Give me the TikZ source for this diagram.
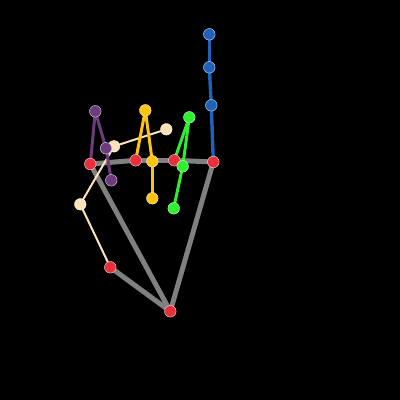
\documentclass[tikz,border=0pt]{standalone}
\usetikzlibrary{backgrounds}
\definecolor{rojo}{HTML}{E8303C}
\definecolor{azul}{HTML}{1F62BC}
\definecolor{morado}{HTML}{6E3C7C}
\definecolor{amarillo}{HTML}{FFC40F}
\definecolor{verde}{HTML}{30EE30}
\definecolor{crema}{HTML}{FDE2B8}
\definecolor{gris}{HTML}{808080}
\tikzset{
	punto/.style={circle, minimum size=11.6pt, inner sep=0pt, draw=white!85!#1, line width=0.4pt, fill=#1},
	hueso/.style={line width=#1, line cap=round}
}
\begin{document}
\begin{tikzpicture}[x=1pt, y=-1pt]
	% Palma
		\node[punto=rojo] (base) at (170.3,311.3) {};
		\node[punto=rojo] (pulgarA) at (110.3,267.3) {};
		\node[punto=rojo] (menique) at (90.3,164) {};
		\node[punto=rojo] (anular) at (135.7,160.3) {};
		\node[punto=rojo] (medio) at (174.3,160.3) {};
		\node[punto=rojo] (indice) at (213.3,162) {};

	% Pulgar
		\node[punto=crema] (pulgarB) at (80.3,204.3) {};
		\node[punto=crema] (pulgarC) at (114,146.3) {};
		\node[punto=crema] (pulgarD) at (166.3,129.3) {};

	% Menique
		\node[punto=morado] (meniqueA) at (95.3,111.3) {};
		\node[punto=morado] (meniqueB) at (106,148.3) {};
		\node[punto=morado] (meniqueC) at (111.3,180.3) {};

	% Anular
		\node[punto=amarillo] (anularA) at (145.3,110.3) {};
		\node[punto=amarillo] (anularB) at (152.3,161.3) {};
		\node[punto=amarillo] (anularC) at (152.3,198.3) {};

	% Medio
		\node[punto=verde] (medioA) at (189.3,117.3) {};
		\node[punto=verde] (medioB) at (182.7,166.3) {};
		\node[punto=verde] (medioC) at (173.7,208.3) {};

	% Indice
		\node[punto=azul] (indiceA) at (211.3,105.3) {};
		\node[punto=azul] (indiceB) at (209.3,67.3) {};
		\node[punto=azul] (indiceC) at (209.3,34.3) {};

	% Fondo y lineas
		\begin{scope}[on background layer]
			\fill[black] (0,0) rectangle (400,400);
			\draw[gris, hueso=5pt] (base) -- (pulgarA);
			\draw[gris, hueso=5pt] (base) -- (menique);
			\draw[gris, hueso=5pt] (base) -- (indice);
			\draw[gris, hueso=5pt] (menique) -- (anular);
			\draw[gris, hueso=5pt] (anular) -- (medio);
			\draw[gris, hueso=5pt] (medio) -- (indice);
			\draw[crema, hueso=2pt] (pulgarA) -- (pulgarB);
			\draw[crema, hueso=2pt] (pulgarB) -- (pulgarC);
			\draw[crema, hueso=2pt] (pulgarC) -- (pulgarD);
			\draw[morado, hueso=3pt] (menique) -- (meniqueA);
			\draw[morado, hueso=3pt] (meniqueA) -- (meniqueB);
			\draw[morado, hueso=3pt] (meniqueB) -- (meniqueC);
			\draw[amarillo, hueso=3pt] (anular) -- (anularA);
			\draw[amarillo, hueso=3pt] (anularA) -- (anularB);
			\draw[amarillo, hueso=3pt] (anularB) -- (anularC);
			\draw[verde, hueso=3pt] (medio) -- (medioA);
			\draw[verde, hueso=3pt] (medioA) -- (medioB);
			\draw[verde, hueso=3pt] (medioB) -- (medioC);
			\draw[azul, hueso=3.4pt] (indice) -- (indiceA);
			\draw[azul, hueso=3.4pt] (indiceA) -- (indiceB);
			\draw[azul, hueso=3.4pt] (indiceB) -- (indiceC);
		\end{scope}
\end{tikzpicture}
\end{document}
